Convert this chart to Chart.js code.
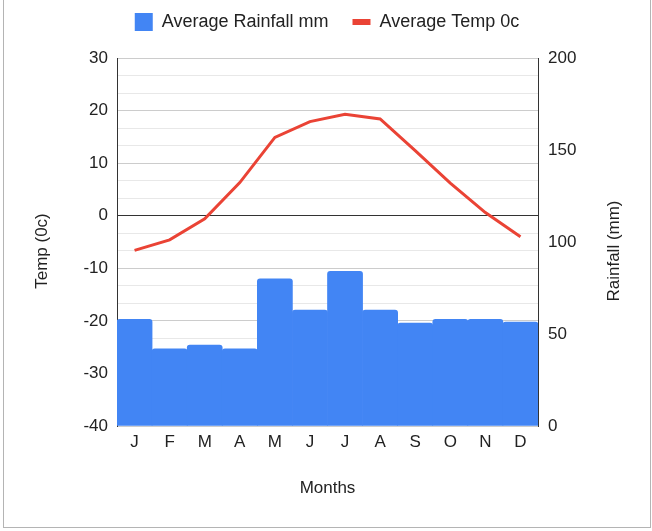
<!DOCTYPE html>
<html>
<head>
<meta charset="utf-8">
<script src="https://cdn.jsdelivr.net/npm/chart.js@4.4.1/dist/chart.umd.min.js"></script>
<style>
  html, body { margin: 0; padding: 0; background: #fff; width: 652px; height: 531px; overflow: hidden; }
  #frame { position: absolute; left: 3px; top: -1px; width: 646px; height: 527px; border: 1px solid #b4b4b4; }
  #wrap { position: absolute; left: 4px; top: -11px; width: 646px; height: 538px; }
</style>
</head>
<body>
<div id="frame"></div>
<div id="wrap"><canvas id="c"></canvas></div>
<script>
const months = ['J', 'F', 'M', 'A', 'M', 'J', 'J', 'A', 'S', 'O', 'N', 'D'];
const rainfall = [58, 42, 44, 42, 80, 63, 84, 63, 56, 58, 58, 56.5];
const temperature = [-6.6, -4.6, -0.6, 6.3, 14.9, 17.9, 19.3, 18.4, 12.4, 6.2, 0.6, -4.0];
const tempTicks = [-40, -30, -20, -10, 0, 10, 20, 30];
const rainTicks = [0, 50, 100, 150, 200];
const rainLabel = 'Average Rainfall mm';
const tempLabel = 'Average Temp 0c';
const xTitle = 'Months';
const yTitle = 'Temp (0c)';
const y1Title = 'Rainfall (mm)';

const FONT = "'Liberation Sans', Arial, sans-serif";
const TEXT = '#222222';
const TITLE_SHIFT = 9;

function drawTitleUp() {
  const t = this.options.title;
  if (!t.display) return;
  const size = t.font.size;
  const lh = size * 1.2;
  const p = t.padding.top || 0;
  const off = lh / 2 + p;
  const x = this.position === 'left' ? this.left + off : this.right - off;
  const y = (this.top + this.bottom) / 2 + TITLE_SHIFT;
  const ctx = this.ctx;
  ctx.save();
  ctx.translate(x, y);
  ctx.rotate(-Math.PI / 2);
  ctx.font = size + 'px ' + FONT;
  ctx.fillStyle = t.color;
  ctx.textAlign = 'center';
  ctx.textBaseline = 'middle';
  ctx.fillText(t.text, 0, 0);
  ctx.restore();
}

const layoutPlugin = {
  id: 'layoutTweaks',
  beforeLayout(chart) {
    const lg = chart.legend;
    if (lg && !lg._patched) {
      const orig = lg.fit;
      lg.fit = function () { orig.call(this); this.height += 17; };
      lg._patched = true;
    }
  },
  afterLayout(chart) {
    chart.scales.y.drawTitle = drawTitleUp;
    chart.scales.y1.drawTitle = drawTitleUp;
  }
};

new Chart(document.getElementById('c'), {
  type: 'bar',
  data: {
    labels: months,
    datasets: [
      {
        label: rainLabel,
        data: rainfall,
        yAxisID: 'y1',
        backgroundColor: '#4285f4',
        borderWidth: 0,
        borderRadius: 3,
        borderSkipped: 'start',
        barPercentage: 1,
        categoryPercentage: 1
      },
      {
        type: 'line',
        label: tempLabel,
        data: temperature,
        yAxisID: 'y',
        borderColor: '#ea4335',
        backgroundColor: '#ea4335',
        borderWidth: 3,
        pointRadius: 0,
        pointHoverRadius: 0,
        tension: 0,
        fill: false
      }
    ]
  },
  options: {
    responsive: true,
    maintainAspectRatio: false,
    animation: false,
    layout: { padding: { left: 0, right: 0, top: 0, bottom: 0 } },
    plugins: {
      tooltip: { enabled: false },
      legend: {
        position: 'top',
        labels: {
          usePointStyle: true,
          pointStyleWidth: 18,
          boxHeight: 18,
          padding: 24,
          color: TEXT,
          font: { size: 18, family: FONT },
          generateLabels(chart) {
            return chart.data.datasets.map((ds, i) => ({
              text: ds.label,
              fillStyle: ds.backgroundColor,
              strokeStyle: i === 0 ? ds.backgroundColor : ds.borderColor,
              lineWidth: i === 0 ? 0 : 6,
              lineCap: 'butt',
              pointStyle: i === 0 ? 'rect' : 'line',
              fontColor: TEXT,
              hidden: false,
              datasetIndex: i
            }));
          }
        }
      }
    },
    scales: {
      x: {
        offset: true,
        grid: { display: false, drawTicks: false },
        border: { display: false },
        ticks: { color: TEXT, font: { size: 17, family: FONT }, padding: 6, maxRotation: 0, autoSkip: false },
        title: { display: true, text: xTitle, color: TEXT, font: { size: 17, family: FONT }, padding: { top: 0, bottom: 28 } },
        afterFit(s) { s.height = 101; }
      },
      y: {
        position: 'left',
        min: tempTicks[0],
        max: tempTicks[tempTicks.length - 1],
        afterBuildTicks(s) {
          const t = [];
          for (let i = 0; i < tempTicks.length; i++) {
            t.push({ value: tempTicks[i] });
            if (i < tempTicks.length - 1) {
              const d = (tempTicks[i + 1] - tempTicks[i]) / 3;
              t.push({ value: tempTicks[i] + d });
              t.push({ value: tempTicks[i] + 2 * d });
            }
          }
          s.ticks = t;
        },
        ticks: {
          autoSkip: false,
          padding: 9,
          color: TEXT,
          font: { size: 17, family: FONT },
          callback: (v) => tempTicks.includes(v) ? String(v) : ''
        },
        grid: {
          drawTicks: false,
          color: (c) => {
            const v = c.tick ? c.tick.value : 1;
            if (v === 0) return '#333333';
            return tempTicks.includes(v) ? '#cccccc' : '#e8e8e8';
          },
          lineWidth: 1
        },
        border: { display: true, color: '#333333', width: 1 },
        title: { display: true, text: yTitle, color: TEXT, font: { size: 17, family: FONT }, padding: { top: 28, bottom: 0 } },
        afterFit(s) { s.width = 113; }
      },
      y1: {
        position: 'right',
        min: rainTicks[0],
        max: rainTicks[rainTicks.length - 1],
        afterBuildTicks(s) { s.ticks = rainTicks.map(v => ({ value: v })); },
        ticks: { autoSkip: false, padding: 10, color: TEXT, font: { size: 17, family: FONT } },
        grid: { drawOnChartArea: false, drawTicks: false },
        border: { display: true, color: '#333333', width: 1 },
        title: { display: true, text: y1Title, color: TEXT, font: { size: 17, family: FONT }, padding: { top: 25, bottom: 0 } },
        afterFit(s) { s.width = 112; }
      }
    }
  },
  plugins: [layoutPlugin]
});
</script>
</body>
</html>
